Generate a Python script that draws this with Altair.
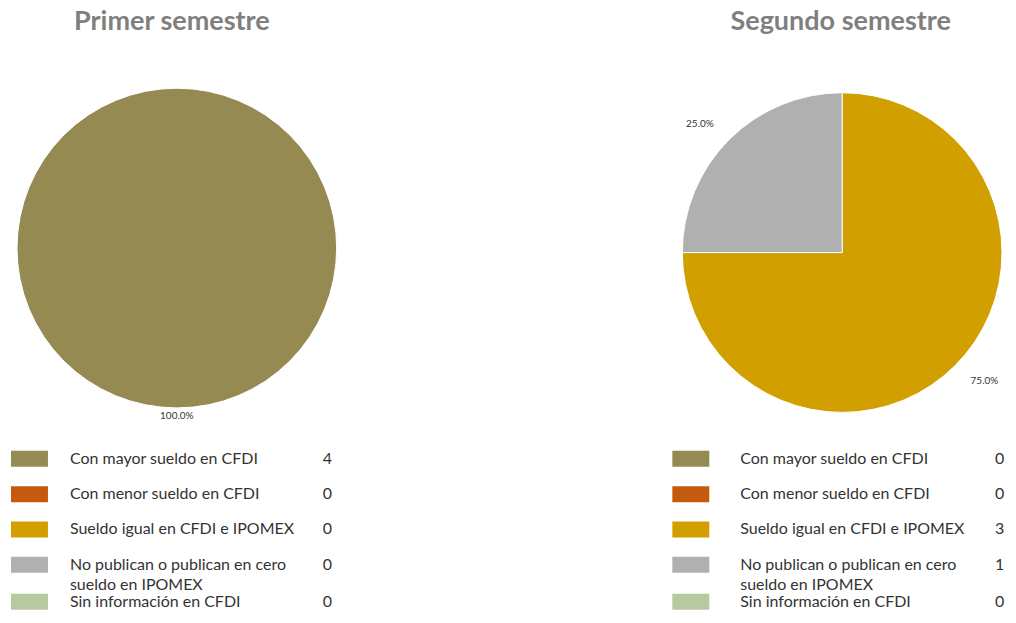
import altair as alt
import pandas as pd

categories = [
    "Con mayor sueldo en CFDI",
    "Con menor sueldo en CFDI",
    "Sueldo igual en CFDI e IPOMEX",
    "No publican o publican en cero\nsueldo en IPOMEX",
    "Sin información en CFDI",
]
colors = ["#958A52", "#C45A0E", "#D19F00", "#B0B0B0", "#B6CB9D"]
primer_semestre = [4, 0, 0, 0, 0]
segundo_semestre = [0, 0, 3, 1, 0]
titles = ["Primer semestre", "Segundo semestre"]

FONT = "Lato"
TOP = 41  # absolute y of plot area top (layout estimate)
ROW_Y = [460, 566, 603]  # absolute y of rows 0, 3, 4


def panel(values, title, title_dx, cx, cy, label_r, label_rot, sw_x, lab_x, val_x, width):
    df = pd.DataFrame({"idx": list(range(len(categories))), "category": categories, "value": values})
    base = alt.Chart(df)
    color = alt.Color("category:N", scale=alt.Scale(domain=categories, range=colors), legend=None)
    ysc = alt.Scale(domain=[0, 3, 4], range=[y - TOP for y in ROW_Y], nice=False, zero=False)
    ypos = alt.Y("idx:Q", scale=ysc, axis=None)

    pie_base = (
        base.transform_filter("datum.value > 0")
        .transform_joinaggregate(total="sum(value)")
        .transform_calculate(pct="datum.value / datum.total")
    )
    theta = alt.Theta("value:Q", stack=True)
    order = alt.Order("idx:Q")
    arc = pie_base.mark_arc(outerRadius=160, stroke="white", strokeWidth=1).encode(
        theta=theta, order=order, color=color, x=alt.value(cx), y=alt.value(cy)
    )
    pct = pie_base.mark_text(
        radius=label_r, thetaOffset=label_rot, font=FONT, fontSize=10, color="#333333"
    ).encode(
        theta=theta, order=order, text=alt.Text("pct:Q", format=".1%"), x=alt.value(cx), y=alt.value(cy)
    )
    sw = base.mark_rect(yOffset=-8, y2Offset=8).encode(
        x=alt.value(sw_x), x2=alt.value(sw_x + 37), y=ypos, y2=alt.Y2("idx"), color=color
    )
    lab = base.mark_text(
        align="left", baseline="middle", font=FONT, fontSize=16, color="#333333", lineBreak="\n", lineHeight=20
    ).encode(x=alt.value(lab_x), y=ypos, text="category:N")
    val = base.mark_text(align="left", baseline="middle", font=FONT, fontSize=16, color="#333333").encode(
        x=alt.value(val_x), y=ypos, text="value:Q"
    )
    return alt.layer(arc, pct, sw, lab, val).properties(
        width=width,
        height=595 - TOP,
        title=alt.TitleParams(
            title, font=FONT, fontSize=27, fontWeight="bold", color="#7F7F7F", anchor="middle", dx=title_dx
        ),
    )


left = panel(primer_semestre, titles[0], -1, 169, 249 - TOP, 168, 0, 3, 62, 315, 330)
right = panel(segundo_semestre, titles[1], 3.5, 176, 253.5 - TOP, 192, -0.05, 6, 74, 329, 342)

chart = (
    alt.hconcat(left, right, spacing=328)
    .properties(padding=0)
    .configure_view(strokeWidth=0)
)

chart.save("out.html", embed_options={"renderer": "svg", "actions": False})
